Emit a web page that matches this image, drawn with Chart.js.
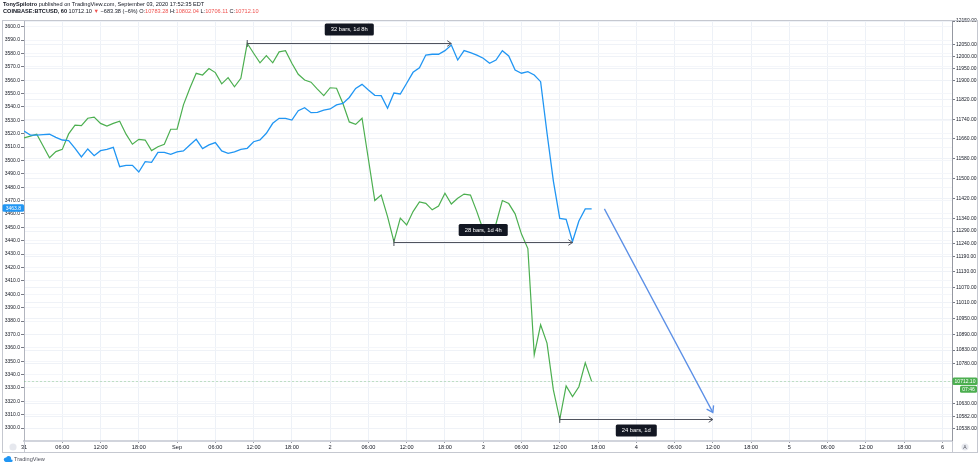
<!DOCTYPE html>
<html>
<head>
<meta charset="utf-8">
<script src="https://cdn.jsdelivr.net/npm/chart.js@4.4.1/dist/chart.umd.min.js"></script>
<style>
  html, body { margin: 0; padding: 0; background: #fff; }
  body { width: 980px; height: 468px; position: relative; overflow: hidden; font-family: "Liberation Sans", Arial, sans-serif; }
  #chart { position: absolute; left: 0; top: 0; }
  .hdr { position: absolute; left: 3px; font-size: 5.6px; line-height: 7px; color: #131722; white-space: nowrap; }
  .red { color: #ef5350; }
  .logo { position: absolute; left: 3px; top: 456px; font-size: 5.6px; line-height: 7px; color: #50535e; white-space: nowrap; }
  .logo svg { vertical-align: -1px; margin-right: 1px; }
</style>
</head>
<body>
<canvas id="chart" width="980" height="468"></canvas>
<div class="hdr" style="top:1px"><b>TonySpilotro</b> published on TradingView.com, September 03, 2020 17:52:35 EDT</div>
<div class="hdr" style="top:8px"><b>COINBASE:BTCUSD, 60</b> 10712.10 <span class="red">▼</span> −683.38 (−6%) O:<span class="red">10783.28</span> H:<span class="red">10802.04</span> L:<span class="red">10706.11</span> C:<span class="red">10712.10</span></div>
<div class="logo"><svg width="10" height="6" viewBox="0 0 10 6"><circle cx="3" cy="3.6" r="2.2" fill="#2196f3"/><circle cx="5.6" cy="2.6" r="2.5" fill="#2196f3"/><rect x="2" y="3.4" width="7.6" height="2.6" rx="1.2" fill="#2196f3"/></svg>TradingView</div>
<script>
// hourly closes, Aug 31 00:00 onwards (one per bar)
const btcClose = [
  11664, 11671, 11679, 11631, 11583, 11608, 11617, 11680, 11716, 11714,
  11744, 11749, 11723, 11712, 11723, 11732, 11679, 11638, 11658, 11655,
  11612, 11628, 11638, 11699, 11699, 11799, 11868, 11930, 11923, 11950,
  11933, 11886, 11912, 11874, 11909, 12056, 12014, 11974, 12004, 11974,
  12020, 12025, 11972, 11926, 11902, 11893, 11864, 11837, 11870, 11868,
  11805, 11729, 11719, 11744, 11577, 11411, 11433, 11347, 11248, 11341,
  11314, 11367, 11406, 11400, 11374, 11389, 11440, 11397, 11420, 11437,
  11433, 11367, 11294, 11282, 11318, 11411, 11399, 11358, 11278, 11221,
  10812, 10926, 10856, 10680, 10571, 10695, 10655, 10692, 10782, 10712.1
];
const spxClose = [
  3522.0, 3519.0, 3519.0, 3519.3, 3519.6, 3517.3, 3515.3, 3514.8, 3509.1, 3502.6,
  3508.6, 3503.6, 3507.3, 3508.3, 3509.8, 3495.3, 3496.4, 3496.4, 3491.4, 3499.1,
  3498.6, 3506.1, 3506.1, 3504.6, 3506.5, 3507.1, 3511.6, 3515.8, 3508.9, 3511.6,
  3513.4, 3507.1, 3505.3, 3506.5, 3508.3, 3509.1, 3514.0, 3515.3, 3520.3, 3527.8,
  3531.5, 3531.5, 3530.2, 3537.2, 3539.4, 3535.7, 3536.0, 3537.7, 3538.5, 3541.5,
  3542.6, 3547.1, 3553.9, 3556.9, 3552.7, 3548.7, 3548.4, 3539.0, 3550.4, 3549.7,
  3557.7, 3565.9, 3569.3, 3578.8, 3579.4, 3579.4, 3582.1, 3586.3, 3575.1, 3582.1,
  3580.6, 3578.8, 3576.4, 3572.6, 3575.1, 3582.1, 3578.1, 3567.6, 3565.2, 3566.4,
  3563.9, 3558.9, 3520.5, 3484.6, 3456.7, 3456.0, 3439.4, 3454.7, 3463.8, 3463.8
];

// time axis: a label every 6 bars
const xTickHours = [0, 6, 12, 18, 24, 30, 36, 42, 48, 54, 60, 66, 72, 78, 84, 90, 96, 102, 108, 114, 120, 126, 132, 138, 144];
const xTickLabels = ['31', '06:00', '12:00', '18:00', 'Sep', '06:00', '12:00', '18:00', '2', '06:00', '12:00', '18:00', '3',
  '06:00', '12:00', '18:00', '4', '06:00', '12:00', '18:00', '5', '06:00', '12:00', '18:00', '6'];

const leftTicks = [3600, 3590, 3580, 3570, 3560, 3550, 3540, 3530, 3520, 3510, 3500, 3490, 3480, 3470, 3460, 3450,
  3440, 3430, 3420, 3410, 3400, 3390, 3380, 3370, 3360, 3350, 3340, 3330, 3320, 3310, 3300];
const rightTicks = [12150, 12050, 12000, 11950, 11900, 11820, 11740, 11660, 11580, 11500, 11420, 11340, 11290, 11240,
  11190, 11130, 11070, 11010, 10950, 10890, 10830, 10780, 10710, 10630, 10582, 10538];

// bar-count measurements (from bar, to bar, text)
const measureFrom = [35, 58, 84];
const measureTo = [67, 86, 108];
const measureText = ['32 bars, 1d 8h', '28 bars, 1d 4h', '24 bars, 1d'];

// projected move drawn on the S&P scale
const projBars = [91, 108];
const projLevels = [3463.8, 3311.7];

const GREEN = '#4caf50';
const BLUE = '#2196f3';
const FONT = { family: '"Liberation Sans", Arial, sans-serif', size: 5.6 };
const YFONT = { family: '"Liberation Sans", Arial, sans-serif', size: 5 };
const AXIS_TXT = '#131722';

function arrowHead(ctx, x1, y1, x2, y2, len) {
    const a = Math.atan2(y2 - y1, x2 - x1);
    ctx.beginPath();
    ctx.moveTo(x2 - len * Math.cos(a - 0.6), y2 - len * Math.sin(a - 0.6));
    ctx.lineTo(x2, y2);
    ctx.lineTo(x2 - len * Math.cos(a + 0.6), y2 - len * Math.sin(a + 0.6));
    ctx.stroke();
}

function tag(ctx, text, cx, cy, w, h, bg) {
    ctx.fillStyle = bg;
    ctx.beginPath();
    ctx.roundRect(cx - w / 2, cy - h / 2, w, h, 1.5);
    ctx.fill();
    ctx.fillStyle = '#fff';
    ctx.textAlign = 'center';
    ctx.textBaseline = 'middle';
    ctx.fillText(text, cx, cy + 0.3);
}

const drawings = {
    id: 'drawings',
    beforeDatasetsDraw(chart) {
        const { ctx, chartArea: a, scales } = chart;
        // last price line
        const py = Math.round(scales.yR.getPixelForValue(btcClose[btcClose.length - 1])) + 0.5;
        ctx.save();
        ctx.strokeStyle = 'rgba(76,175,80,0.3)';
        ctx.setLineDash([2, 2]);
        ctx.lineWidth = 1;
        ctx.beginPath();
        ctx.moveTo(a.left, py);
        ctx.lineTo(a.right, py);
        ctx.stroke();
        ctx.restore();
    },
    afterDatasetsDraw(chart) {
        const { ctx, scales: { x, yL, yR } } = chart;
        ctx.save();
        ctx.font = '5.8px "Liberation Sans", Arial, sans-serif';

        // measurement arrows
        const labelDy = [-14, -12.5, 11];
        measureFrom.forEach((from, i) => {
            const x1 = x.getPixelForValue(from);
            const x2 = x.getPixelForValue(measureTo[i]);
            const y = Math.round(yR.getPixelForValue(btcClose[from])) + 0.5;
            ctx.strokeStyle = '#50535e';
            ctx.lineWidth = 1;
            ctx.beginPath();
            ctx.moveTo(x1, y);
            ctx.lineTo(x2, y);
            ctx.moveTo(x1, y - 3.5);
            ctx.lineTo(x1, y + 3.5);
            ctx.stroke();
            arrowHead(ctx, x1, y, x2, y, 5);
            const w = ctx.measureText(measureText[i]).width + 12;
            tag(ctx, measureText[i], (x1 + x2) / 2, y + labelDy[i], w, 12, '#131722');
        });

        // projected drop
        const px1 = x.getPixelForValue(projBars[0]), py1 = yL.getPixelForValue(projLevels[0]);
        const px2 = x.getPixelForValue(projBars[1]), py2 = yL.getPixelForValue(projLevels[1]);
        ctx.strokeStyle = '#5b8fe6';
        ctx.lineWidth = 1.3;
        ctx.beginPath();
        ctx.moveTo(px1, py1);
        ctx.lineTo(px2, py2);
        ctx.stroke();
        arrowHead(ctx, px1, py1, px2, py2, 7);
        ctx.restore();
    },
    afterDraw(chart) {
        const { ctx, chartArea: a, scales: { yL, yR } } = chart;
        ctx.save();
        // pane frame
        ctx.strokeStyle = '#c5c8d0';
        ctx.lineWidth = 1;
        ctx.strokeRect(2.5, 20.5, 975, 432);
        ctx.beginPath();
        ctx.moveTo(a.left + 0.5, a.bottom);
        ctx.lineTo(a.left + 0.5, 452.5);
        ctx.moveTo(a.right + 0.5, a.bottom);
        ctx.lineTo(a.right + 0.5, 452.5);
        ctx.stroke();

        ctx.font = '5px "Liberation Sans", Arial, sans-serif';
        // last value tags on the scales
        const ly = yL.getPixelForValue(spxClose[spxClose.length - 1]);
        tag(ctx, spxClose[spxClose.length - 1].toFixed(1), 13.3, ly - 1, 21.5, 7.5, BLUE);
        const ry = yR.getPixelForValue(btcClose[btcClose.length - 1]);
        tag(ctx, btcClose[btcClose.length - 1].toFixed(2), 965, ry, 25, 7.5, GREEN);
        tag(ctx, '07:46', 968.5, ry + 7.8, 17, 7, GREEN);

        // corner buttons
        ctx.fillStyle = '#e6e8ee';
        ctx.beginPath();
        ctx.arc(13, 447, 3.6, 0, Math.PI * 2);
        ctx.arc(965, 447, 3.6, 0, Math.PI * 2);
        ctx.fill();
        ctx.fillStyle = '#50535e';
        ctx.textAlign = 'center';
        ctx.textBaseline = 'middle';
        ctx.fillText('A', 965, 447.3);
        ctx.restore();
    }
};

const ctx = document.getElementById('chart').getContext('2d');
const chart = new Chart(ctx, {
    type: 'line',
    data: {
        datasets: [
            {
                label: 'S&P 500',
                data: spxClose.map((v, i) => ({ x: i, y: v })),
                yAxisID: 'yL',
                borderColor: BLUE,
                borderWidth: 1.3,
                pointRadius: 0,
                tension: 0
            },
            {
                label: 'COINBASE:BTCUSD',
                data: btcClose.map((v, i) => ({ x: i, y: v })),
                yAxisID: 'yR',
                borderColor: GREEN,
                borderWidth: 1.2,
                pointRadius: 0,
                tension: 0
            }
        ]
    },
    options: {
        responsive: false,
        animation: false,
        layout: { padding: { left: 2, right: 2, top: 20, bottom: 15.3 } },
        plugins: {
            legend: { display: false },
            tooltip: { enabled: false }
        },
        scales: {
            x: {
                type: 'linear',
                min: 0,
                max: 145.5,
                afterBuildTicks: s => { s.ticks = xTickHours.map(v => ({ value: v })); },
                afterFit: s => { s.height = 11.7; },
                ticks: {
                    callback: v => xTickLabels[Math.round(v / 6)],
                    font: FONT,
                    color: AXIS_TXT,
                    padding: 1.5,
                    maxRotation: 0,
                    autoSkip: false
                },
                grid: { color: '#edf1f7', tickLength: 2, tickColor: '#9598a1' },
                border: { color: '#d1d4dc', width: 2 }
            },
            yL: {
                type: 'linear',
                position: 'left',
                min: 3290.3,
                max: 3605,
                afterBuildTicks: s => { s.ticks = leftTicks.map(v => ({ value: v })); },
                afterFit: s => { s.width = 22; },
                ticks: {
                    callback: v => v.toFixed(1),
                    font: YFONT,
                    color: AXIS_TXT,
                    padding: 1,
                    autoSkip: false
                },
                grid: { color: '#f4f6fa', tickLength: 3, tickColor: '#787b86' },
                border: { color: '#b2b5be' }
            },
            yR: {
                type: 'logarithmic',
                position: 'right',
                min: 10491,
                max: 12154.5,
                afterBuildTicks: s => { s.ticks = rightTicks.map(v => ({ value: v })); },
                afterFit: s => { s.width = 26; },
                ticks: {
                    callback: v => Number(v).toFixed(2),
                    font: YFONT,
                    color: AXIS_TXT,
                    padding: 1,
                    autoSkip: false
                },
                grid: { color: '#eff2f7', tickLength: 3, tickColor: '#787b86' },
                border: { color: '#9598a1' }
            }
        }
    },
    plugins: [drawings]
});
</script>
</body>
</html>
